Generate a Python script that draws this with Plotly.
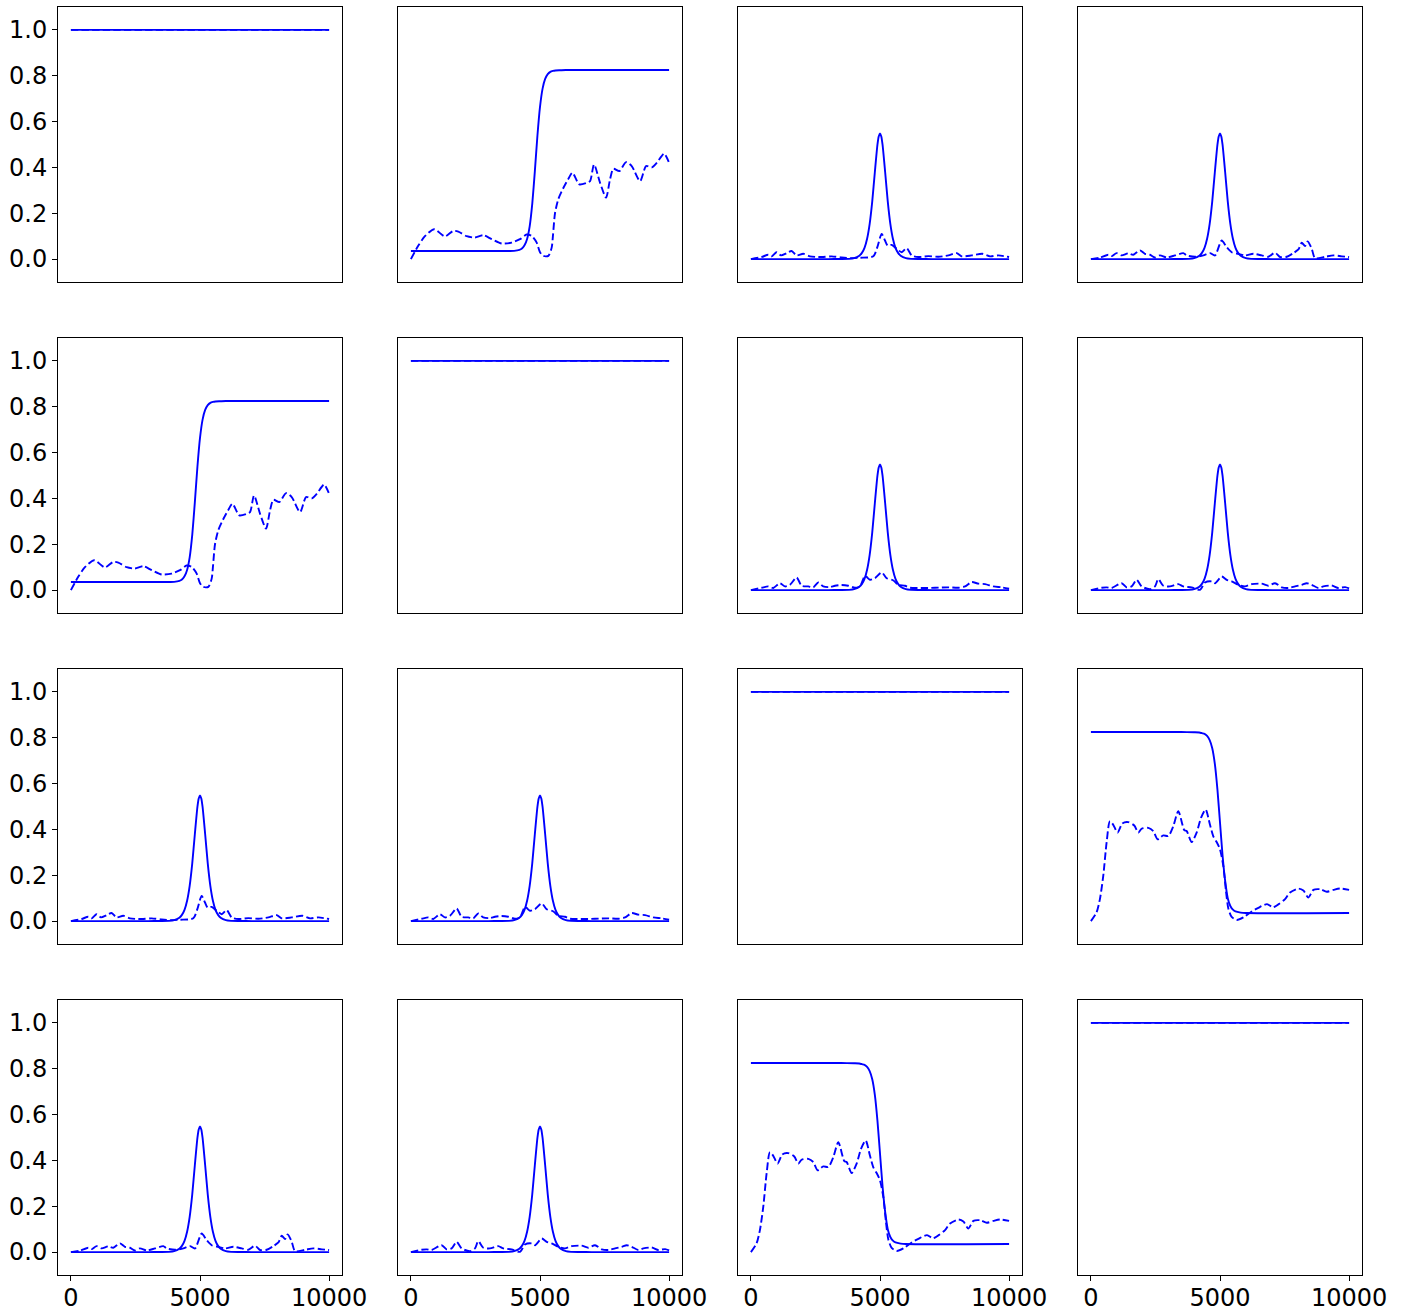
import plotly.graph_objects as go

# ---- solid curves ------------------------------------------------------
flat_x = [0, 10000]
flat_y = [1.0, 1.0]

step_x = [0, 3500, 4000, 4200, 4300, 4400, 4500, 4600, 4700, 4800, 4900, 5000,
          5100, 5200, 5300, 5400, 5500, 5600, 5800, 6000, 10000]
rise_y = [0.035, 0.035, 0.036, 0.040, 0.046, 0.060, 0.088, 0.143, 0.241, 0.383,
          0.538, 0.664, 0.744, 0.786, 0.807, 0.817, 0.821, 0.823, 0.824, 0.825, 0.825]
fall_y = [0.825, 0.825, 0.824, 0.823, 0.820, 0.817, 0.808, 0.790, 0.754, 0.686,
          0.575, 0.430, 0.285, 0.175, 0.100, 0.066, 0.050, 0.042, 0.037, 0.035, 0.035]

peak_x = [0, 3000, 3500, 3800, 4000, 4200, 4300, 4400, 4500, 4600, 4700, 4800,
          4900, 4950, 5000, 5050, 5100, 5200, 5300, 5400, 5500, 5600, 5700, 5800,
          6000, 6200, 6500, 7000, 10000]
peak_y = [0.0, 0.0, 0.0003, 0.001, 0.004, 0.015, 0.027, 0.049, 0.089, 0.154,
          0.252, 0.379, 0.498, 0.535, 0.548, 0.535, 0.498, 0.379, 0.252, 0.154,
          0.089, 0.049, 0.027, 0.015, 0.004, 0.001, 0.0003, 0.0, 0.0]

# ---- dashed curves -----------------------------------------------------
d12_x = [0, 283, 543, 904, 1318, 1640, 1835, 2158, 2481, 2804, 3127, 3514, 3902,
         4225, 4483, 4678, 4871, 5000, 5129, 5323, 5452, 5500, 5581, 5711, 5904,
         6098, 6253, 6524, 6810, 6938, 7093, 7326, 7558, 7713, 7842, 8074, 8333,
         8553, 8876, 9109, 9329, 9522, 9806, 10000]
d12_y = [0.0, 0.058, 0.10, 0.13, 0.099, 0.123, 0.12, 0.10, 0.094, 0.104, 0.087,
         0.068, 0.072, 0.087, 0.107, 0.101, 0.072, 0.030, 0.014, 0.014, 0.05, 0.10,
         0.20, 0.262, 0.31, 0.35, 0.377, 0.326, 0.333, 0.34, 0.413, 0.333, 0.268,
         0.348, 0.394, 0.384, 0.423, 0.406, 0.34, 0.406, 0.40, 0.42, 0.46, 0.42]

d13_x = [0, 414, 672, 801, 995, 1163, 1383, 1576, 1770, 2028, 2287, 2739, 3127,
         3514, 3902, 4225, 4741, 4897, 5065, 5194, 5297, 5452, 5646, 5840, 6034,
         6227, 6486, 6873, 7260, 7649, 7972, 8166, 8554, 8966, 9264, 9586, 10000]
d13_y = [0.0, 0.009, 0.019, 0.012, 0.03, 0.016, 0.026, 0.035, 0.016, 0.023, 0.012,
         0.009, 0.012, 0.007, 0.004, 0.006, 0.012, 0.052, 0.11, 0.081, 0.059, 0.062,
         0.045, 0.03, 0.048, 0.016, 0.009, 0.013, 0.010, 0.016, 0.026, 0.012, 0.016,
         0.023, 0.012, 0.016, 0.009]

d14_x = [0, 349, 672, 801, 995, 1189, 1447, 1640, 1899, 2093, 2287, 2481, 2674,
         2933, 3256, 3578, 3708, 4031, 4354, 4612, 4806, 5065, 5258, 5452, 5711,
         5969, 6292, 6615, 6873, 7132, 7326, 7584, 7842, 8036, 8166, 8295, 8398,
         8553, 8682, 9070, 9393, 9716, 10000]
d14_y = [0.0, 0.006, 0.019, 0.013, 0.026, 0.016, 0.025, 0.019, 0.038, 0.023, 0.019,
         0.007, 0.016, 0.007, 0.016, 0.026, 0.016, 0.010, 0.016, 0.026, 0.016, 0.081,
         0.052, 0.03, 0.023, 0.016, 0.023, 0.016, 0.010, 0.028, 0.009, 0.010, 0.026,
         0.042, 0.071, 0.057, 0.077, 0.045, 0.004, 0.01, 0.016, 0.012, 0.009]

d23_x = [0, 414, 672, 866, 1124, 1318, 1512, 1770, 1964, 2222, 2416, 2610, 2804,
         3062, 3256, 3514, 3772, 4031, 4225, 4419, 4612, 4806, 5065, 5258, 5517,
         5711, 5969, 6163, 6615, 7132, 7649, 8036, 8295, 8553, 8811, 9070, 9393,
         9716, 10000]
d23_y = [0.0, 0.010, 0.016, 0.009, 0.03, 0.016, 0.023, 0.055, 0.019, 0.016, 0.012,
         0.033, 0.016, 0.013, 0.019, 0.022, 0.019, 0.010, 0.016, 0.062, 0.045, 0.052,
         0.077, 0.052, 0.042, 0.023, 0.019, 0.010, 0.009, 0.010, 0.012, 0.010, 0.016,
         0.035, 0.028, 0.026, 0.016, 0.012, 0.006]

d24_x = [0, 414, 607, 801, 1189, 1383, 1576, 1770, 1964, 2287, 2481, 2610, 2804,
         3062, 3385, 3578, 3901, 4225, 4419, 4677, 4806, 5065, 5258, 5452, 5711,
         5969, 6227, 6615, 6873, 7132, 7390, 7649, 7907, 8166, 8360, 8553, 8811,
         9005, 9328, 9586, 9845, 10000]
d24_y = [0.0, 0.010, 0.012, 0.009, 0.03, 0.012, 0.016, 0.045, 0.016, 0.004, 0.016,
         0.048, 0.019, 0.016, 0.026, 0.016, 0.012, 0.001, 0.033, 0.038, 0.03, 0.059,
         0.045, 0.038, 0.023, 0.016, 0.026, 0.028, 0.019, 0.03, 0.012, 0.009, 0.016,
         0.023, 0.03, 0.023, 0.009, 0.016, 0.02, 0.009, 0.013, 0.007]

d34_x = [0, 220, 349, 478, 607, 736, 866, 1034, 1215, 1447, 1680, 1835, 1964, 2222,
         2416, 2584, 2804, 2998, 3191, 3385, 3617, 3708, 3901, 4095, 4264, 4444,
         4612, 4741, 4870, 5000, 5129, 5232, 5323, 5452, 5646, 5904, 6227, 6486,
         6822, 7054, 7274, 7520, 7713, 8036, 8230, 8424, 8618, 8876, 9134, 9393,
         9651, 10000]
d34_y = [0.0, 0.038, 0.096, 0.197, 0.342, 0.436, 0.42, 0.386, 0.426, 0.432, 0.417,
         0.386, 0.403, 0.407, 0.393, 0.357, 0.374, 0.371, 0.414, 0.48, 0.397, 0.393,
         0.345, 0.386, 0.45, 0.487, 0.42, 0.37, 0.345, 0.313, 0.24, 0.13, 0.055,
         0.018, 0.005, 0.016, 0.042, 0.058, 0.074, 0.06, 0.074, 0.096, 0.125, 0.142,
         0.133, 0.103, 0.136, 0.139, 0.128, 0.136, 0.142, 0.136]

x_ticks = [0, 5000, 10000]
y_ticks = [0.0, 0.2, 0.4, 0.6, 0.8, 1.0]

# ---- grid assignment -----------------------------------------------------
flat = (flat_x, flat_y)
rise = (step_x, rise_y)
fall = (step_x, fall_y)
peak = (peak_x, peak_y)

solid_grid = [
    [flat, rise, peak, peak],
    [rise, flat, peak, peak],
    [peak, peak, flat, fall],
    [peak, peak, fall, flat],
]

dashed_pairs = {
    (0, 1): (d12_x, d12_y),
    (0, 2): (d13_x, d13_y),
    (0, 3): (d14_x, d14_y),
    (1, 2): (d23_x, d23_y),
    (1, 3): (d24_x, d24_y),
    (2, 3): (d34_x, d34_y),
}

W, H = 1408, 1314
col_left = [58, 398, 738, 1078]
row_top = [7, 338, 669, 1000]
pw, ph = 284, 275

BLUE = "#0000ff"
FONT = dict(family="DejaVu Sans", size=24, color="black")

fig = go.Figure()
layout = {}

for r in range(4):
    for c in range(4):
        k = r * 4 + c + 1
        xa = "x" if k == 1 else f"x{k}"
        ya = "y" if k == 1 else f"y{k}"

        sx, sy = solid_grid[r][c]
        if r == c:
            dx, dy = flat
        else:
            dx, dy = dashed_pairs[(min(r, c), max(r, c))]

        fig.add_trace(go.Scatter(x=sx, y=sy, mode="lines", xaxis=xa, yaxis=ya,
                                 line=dict(color=BLUE, width=1.9, shape="spline",
                                           smoothing=0.6),
                                 showlegend=False, hoverinfo="skip"))
        fig.add_trace(go.Scatter(x=dx, y=dy, mode="lines", xaxis=xa, yaxis=ya,
                                 line=dict(color=BLUE, width=1.9, dash="7.4px,3.2px",
                                           shape="spline", smoothing=0.7),
                                 showlegend=False, hoverinfo="skip"))

        l = col_left[c]
        t = row_top[r]
        xdom = [l / W, (l + pw) / W]
        ydom = [1 - (t + ph) / H, 1 - t / H]

        bottom = r == 3
        left = c == 0

        layout["xaxis" if k == 1 else f"xaxis{k}"] = dict(
            domain=xdom, anchor=ya, range=[-500, 10500], automargin=False,
            showgrid=False, zeroline=False,
            showline=True, mirror=True, linecolor="black", linewidth=1,
            ticks="outside" if bottom else "", ticklen=5, tickwidth=1,
            tickcolor="black",
            tickvals=x_ticks, tickformat="d",
            showticklabels=bottom, tickfont=FONT, ticklabelstandoff=-4,
        )
        layout["yaxis" if k == 1 else f"yaxis{k}"] = dict(
            domain=ydom, anchor=xa, range=[-0.1, 1.1], automargin=False,
            showgrid=False, zeroline=False,
            showline=True, mirror=True, linecolor="black", linewidth=1,
            ticks="outside" if left else "", ticklen=5, tickwidth=1,
            tickcolor="black",
            tickvals=y_ticks, tickformat=".1f",
            showticklabels=left, tickfont=FONT, ticklabelstandoff=0,
        )

fig.update_layout(
    width=W, height=H,
    margin=dict(l=0, r=0, t=0, b=0, autoexpand=False),
    paper_bgcolor="white", plot_bgcolor="white",
    font=FONT,
    **layout,
)

fig.write_html("out.html")
